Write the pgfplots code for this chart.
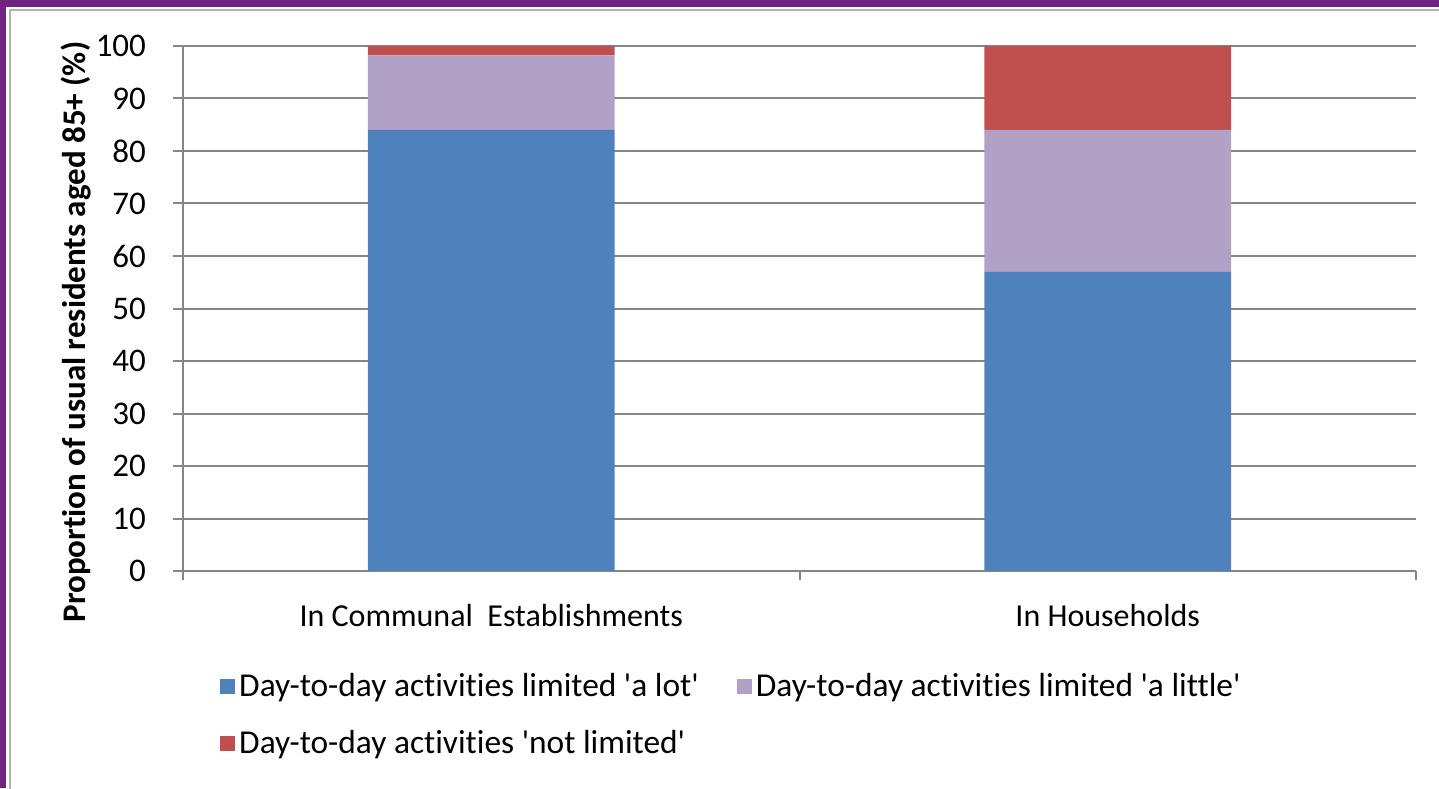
\documentclass[border=0pt]{standalone}
\usepackage{pgfplots}
\pgfplotsset{compat=1.18}
\usepackage{fontspec}
\setmainfont{Carlito}[Ligatures={NoCommon}]
\definecolor{framepurple}{RGB}{112,36,130}
\definecolor{cblue}{RGB}{79,129,189}
\definecolor{clilac}{RGB}{178,161,199}
\definecolor{cred}{RGB}{192,80,77}
\definecolor{gridgray}{RGB}{134,134,134}
\pgfplotstableread{
x alot alittle notlim
0 84.0 14.2 1.8
1 57.0 27.0 16.0
}\datatable
\begin{document}
\fontsize{16pt}{19pt}\selectfont
\begin{tikzpicture}
\path[use as bounding box] (0,0) rectangle (719.5pt,394pt);
\fill[white] (0,0) rectangle (719.5pt,394pt);
\fill[framepurple] (0,390.5pt) rectangle (719.5pt,394pt);
\fill[framepurple] (0,0) rectangle (3pt,394pt);
\draw[gray!60, line width=1pt] (5pt,-1pt) -- (5pt,389pt) -- (722pt,389pt);
\begin{axis}[
  at={(91.5pt,108.5pt)}, anchor=south west,
  scale only axis, width=616.5pt, height=262.5pt,
  ybar stacked, bar width=0.4,
  xmin=-0.5, xmax=1.5, ymin=0, ymax=100,
  axis x line=bottom, axis y line=left,
  axis line style={gridgray, line width=1pt, -},
  xtick={0,1}, xticklabels={In Communal~ Establishments, In Households},
  major x tick style={draw=none},
  minor xtick={-0.5,0.5,1.5},
  minor x tick style={gridgray, line width=1pt},
  minor tick length=4.5pt,
  ytick={0,10,...,100},
  major tick length=5pt,
  y tick style={gridgray, line width=1pt},
  tick align=outside,
  ymajorgrids, major grid style={gridgray, line width=1pt},
  /pgf/number format/assume math mode=true,
  ticklabel style={text=black},
  xticklabel style={yshift=-6pt},
  yticklabel style={xshift=-8pt, font=\fontsize{16.5pt}{19pt}\selectfont},
  ylabel={\fontsize{16.5pt}{19pt}\selectfont\bfseries Proportion of usual residents aged 85+ (\%)},
  ylabel style={at={(axis description cs:-0.087,0.455)}, anchor=center},
  legend style={at={(axis description cs:0.025,-0.178)}, anchor=north west,
    draw=none, fill=none, legend columns=2,
    /tikz/every even column/.append style={column sep=17pt},
    row sep=10.5pt, font=\fontsize{16.7pt}{19pt}\selectfont},
  legend cell align=left,
  legend image code/.code={\fill[#1] (0pt,-3.75pt) rectangle (7.5pt,3.75pt);},
]
\addplot[fill=cblue, draw=none] table[x=x,y=alot] {\datatable};
\addlegendentry{Day-to-day activities limited \textquotesingle a lot\textquotesingle}
\addplot[fill=clilac, draw=none] table[x=x,y=alittle] {\datatable};
\addlegendentry{Day-to-day activities limited \textquotesingle a little\textquotesingle}
\addplot[fill=cred, draw=none] table[x=x,y=notlim] {\datatable};
\addlegendentry{Day-to-day activities \textquotesingle not limited\textquotesingle}
\end{axis}
\end{tikzpicture}
\end{document}
